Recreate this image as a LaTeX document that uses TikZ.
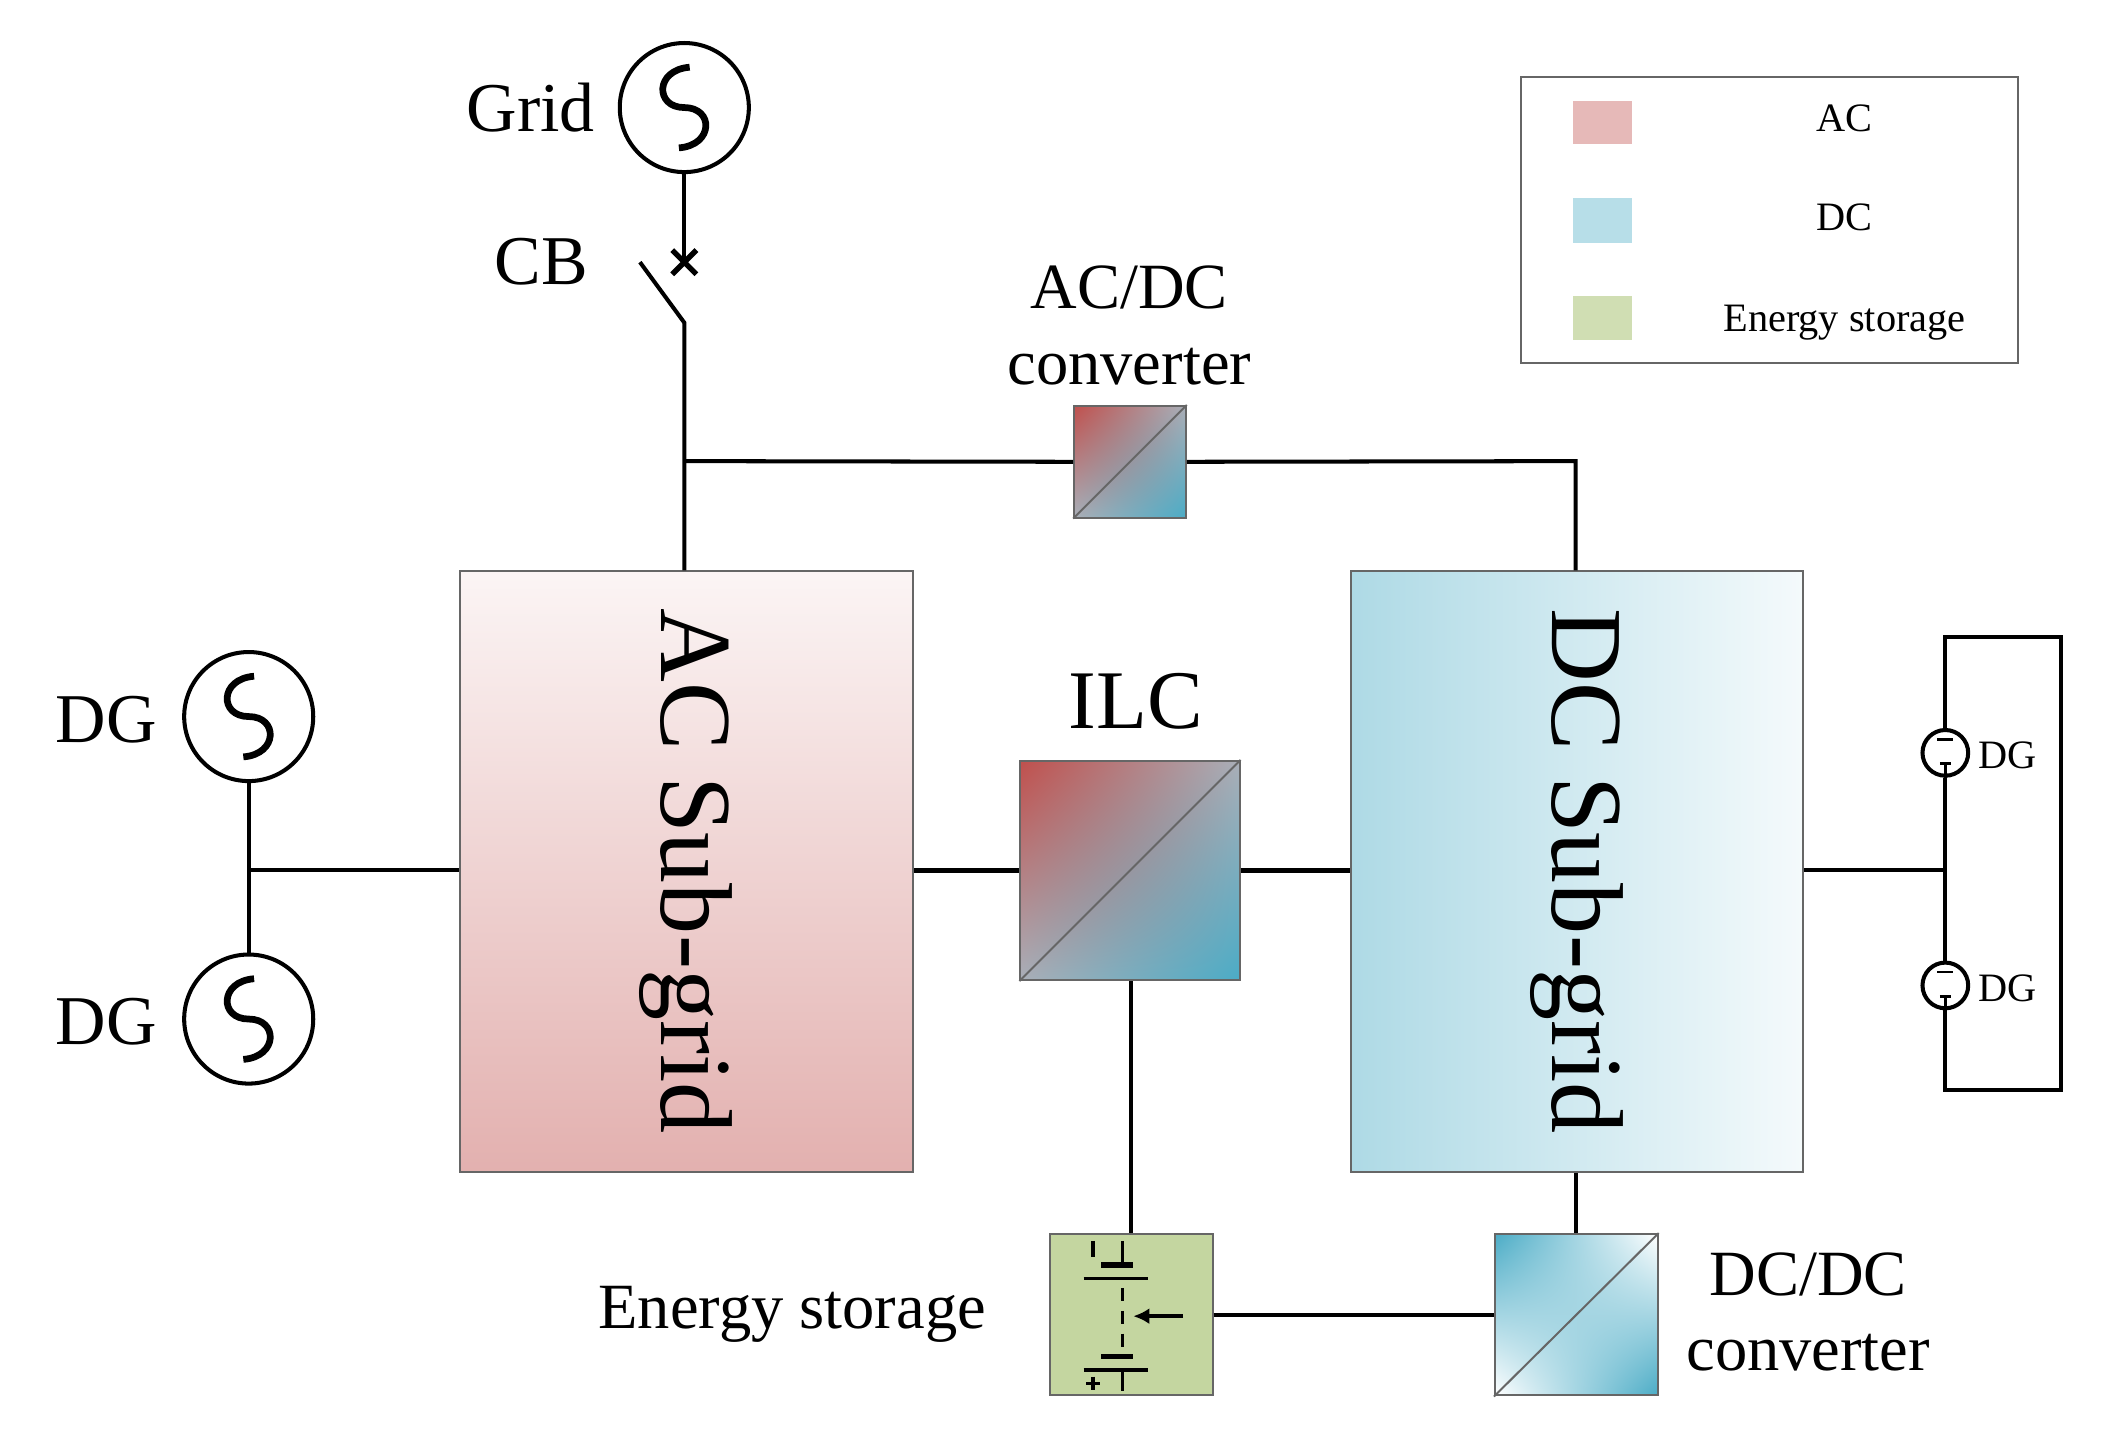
\documentclass[tikz,border=0pt]{standalone}
\usepackage{fontspec}
\setmainfont{Liberation Serif}
\usetikzlibrary{arrows.meta,shadings,calc}
\definecolor{acR}{HTML}{C0504D}
\definecolor{dcB}{HTML}{4BACC6}
\definecolor{midG}{HTML}{A9AFB8}
\definecolor{esG}{HTML}{C4D6A0}
\begin{document}
\begin{tikzpicture}[x=1pt,y=-1pt,
  wire/.style={line width=3pt},
  gen/.style={circle,draw,line width=3pt,minimum size=96pt,inner sep=0pt},
  box/.style={draw=gray!80!black,line width=1.5pt,inner sep=0pt},
  big/.style={font=\fontsize{52}{60}\selectfont},
  mid/.style={font=\fontsize{48}{56}\selectfont},
  leg/.style={font=\fontsize{30}{36}\selectfont},
  sine/.pic={\draw[line width=5pt] (4,-30) .. controls (-22,-28) and (-22,0) .. (0,0) .. controls (22,0) and (22,28) .. (-4,30);}]
\useasboundingbox (0,0) rectangle (1568,1067);
% sub-grids
\shade[top color=white!80!acR!30, bottom color=acR!45!white] (342,425) rectangle (679,872);
\node[box,minimum width=337pt,minimum height=447pt] (ac) at (510.5,648.5) {};
\node[rotate=-90,font=\fontsize{76}{80}\selectfont] at (510,648) {AC Sub-grid};
\shade[left color=dcB!45!white, right color=dcB!6!white] (1005,425) rectangle (1341,872);
\node[box,minimum width=336pt,minimum height=447pt] (dc) at (1173,648.5) {};
\node[rotate=-90,font=\fontsize{76}{80}\selectfont] at (1173,648) {DC Sub-grid};
% grid
\node[gen] (grid) at (509,80) {};
\pic at (509,80) {sine};
\node[big,anchor=east] at (446,80) {Grid};
\node[big,anchor=east] at (441,195) {CB};
\coordinate (cbx) at (509,195);
\coordinate (sw1) at (476,195);
\coordinate (sw2) at (509,240);
\coordinate (j1) at (509,343);
\draw[wire] (grid.south) -- (cbx);
\draw[line width=4pt] (cbx)++(-9,-9) -- ++(18,18) (cbx)++(9,-9) -- ++(-18,18);
\draw[wire] (sw1) -- (sw2) -- (j1) -- (ac.north -| j1);
% AC/DC converter
\shade[upper left=acR, lower right=dcB, upper right=midG, lower left=midG] (799,302) rectangle (882,385);
\node[box,minimum size=83pt] (acdc) at (840.5,343.5) {};
\draw[line width=1.5pt,gray!80!black] (acdc.south west) -- (acdc.north east);
\node[mid,align=center] at (840,242) {AC/DC\\converter};
\coordinate (j2) at (1172,343);
\draw[wire] (j1) -- (acdc.west) (acdc.east) -- (j2) -- (dc.north -| j2);
% ILC
\shade[upper left=acR, lower right=dcB, upper right=midG, lower left=midG] (759,566) rectangle (922,729);
\node[box,minimum size=163pt] (ilc) at (840.5,647.5) {};
\draw[line width=1.5pt,gray!80!black] (ilc.south west) -- (ilc.north east);
\node[font=\fontsize{62}{70}\selectfont] at (845,522) {ILC};
\draw[wire] (ac.east |- ilc.west) -- (ilc.west) (ilc.east) -- (dc.west |- ilc.east);
% left DGs
\node[gen] (dg1) at (185,533) {};
\node[gen] (dg2) at (185,758) {};
\pic at (185,533) {sine};
\pic at (185,758) {sine};
\node[big,anchor=east] at (120,535) {DG};
\node[big,anchor=east] at (120,760) {DG};
\coordinate (j3) at (185,647);
\draw[wire] (dg1.south) -- (dg2.north) (j3) -- (ac.west |- j3);
% right DGs
\coordinate (r1) at (1447,474); \coordinate (r2) at (1533,474);
\coordinate (r3) at (1533,811); \coordinate (r4) at (1447,811);
\coordinate (j4) at (1447,647);
\node[circle,draw,line width=3pt,minimum size=34pt,inner sep=0pt] (rd1) at (1447,560) {};
\node[circle,draw,line width=3pt,minimum size=34pt,inner sep=0pt] (rd2) at (1447,733) {};
\draw[wire] (rd1.north) -- (r1) -- (r2) -- (r3) -- (r4) -- (rd2.south);
\draw[wire] (rd1.south) -- (rd2.north);
\draw[wire] (dc.east |- j4) -- (j4);
\foreach \c in {rd1,rd2}{\draw[line width=2pt] ($(\c)+(-6,-10)$) -- ++(12,0); \draw[line width=2.5pt] (\c.south) -- ++(0,-10) ($(\c)+(-4,8)$) -- ++(8,0);}
\node[leg,anchor=west] at (1468,562) {DG};
\node[leg,anchor=west] at (1468,735) {DG};
% energy storage
\fill[esG] (781,918) rectangle (902,1038);
\node[box,minimum width=121pt,minimum height=120pt] (es) at (841.5,978) {};
\begin{scope}[shift={(781,918)},line width=2.5pt]
\draw (32,5) -- (32,17) (54,5) -- (54,23);
\draw[line width=4pt] (38,23) -- (62,23) (38,91) -- (62,91);
\draw (25,33) -- (73,33) (25,101) -- (73,101) (54,101) -- (54,117);
\draw[dash pattern=on 10pt off 7pt] (54,40) -- (54,84);
\draw[-{Latex[length=12pt,width=12pt]}] (99,61) -- (62,61);
\draw (27,111) -- (37,111) (32,106) -- (32,116);
\end{scope}
\node[mid,anchor=east] at (737,978) {Energy storage};
% DC/DC
\shade[upper left=dcB, lower right=dcB, upper right=white, lower left=white] (1112,918) rectangle (1233,1038);
\node[box,minimum width=121pt,minimum height=120pt] (dcdc) at (1172.5,978) {};
\draw[line width=1.5pt,gray!80!black] (dcdc.south west) -- (dcdc.north east);
\node[mid,align=center] at (1345,976) {DC/DC\\converter};
\draw[wire] (ilc.south -| es.north) -- (es.north);
\draw[wire] (es.east) -- (dcdc.west);
\draw[wire] (dc.south -| dcdc.north) -- (dcdc.north);
% legend
\node[draw=gray!80!black,line width=1.5pt,minimum width=370pt,minimum height=213pt,inner sep=0pt] (lg) at (1316,163.5) {};
\fill[acR!40!white] (1170,75) rectangle (1214,107);
\fill[dcB!40!white] (1170,147) rectangle (1214,181);
\fill[esG!80!white] (1170,220) rectangle (1214,253);
\node[leg] (l1) at (1372,88) {AC};
\node[leg] (l2) at (1372,162) {DC};
\node[leg] (l3) at (1372,240) {Energy storage};
\end{tikzpicture}
\end{document}
